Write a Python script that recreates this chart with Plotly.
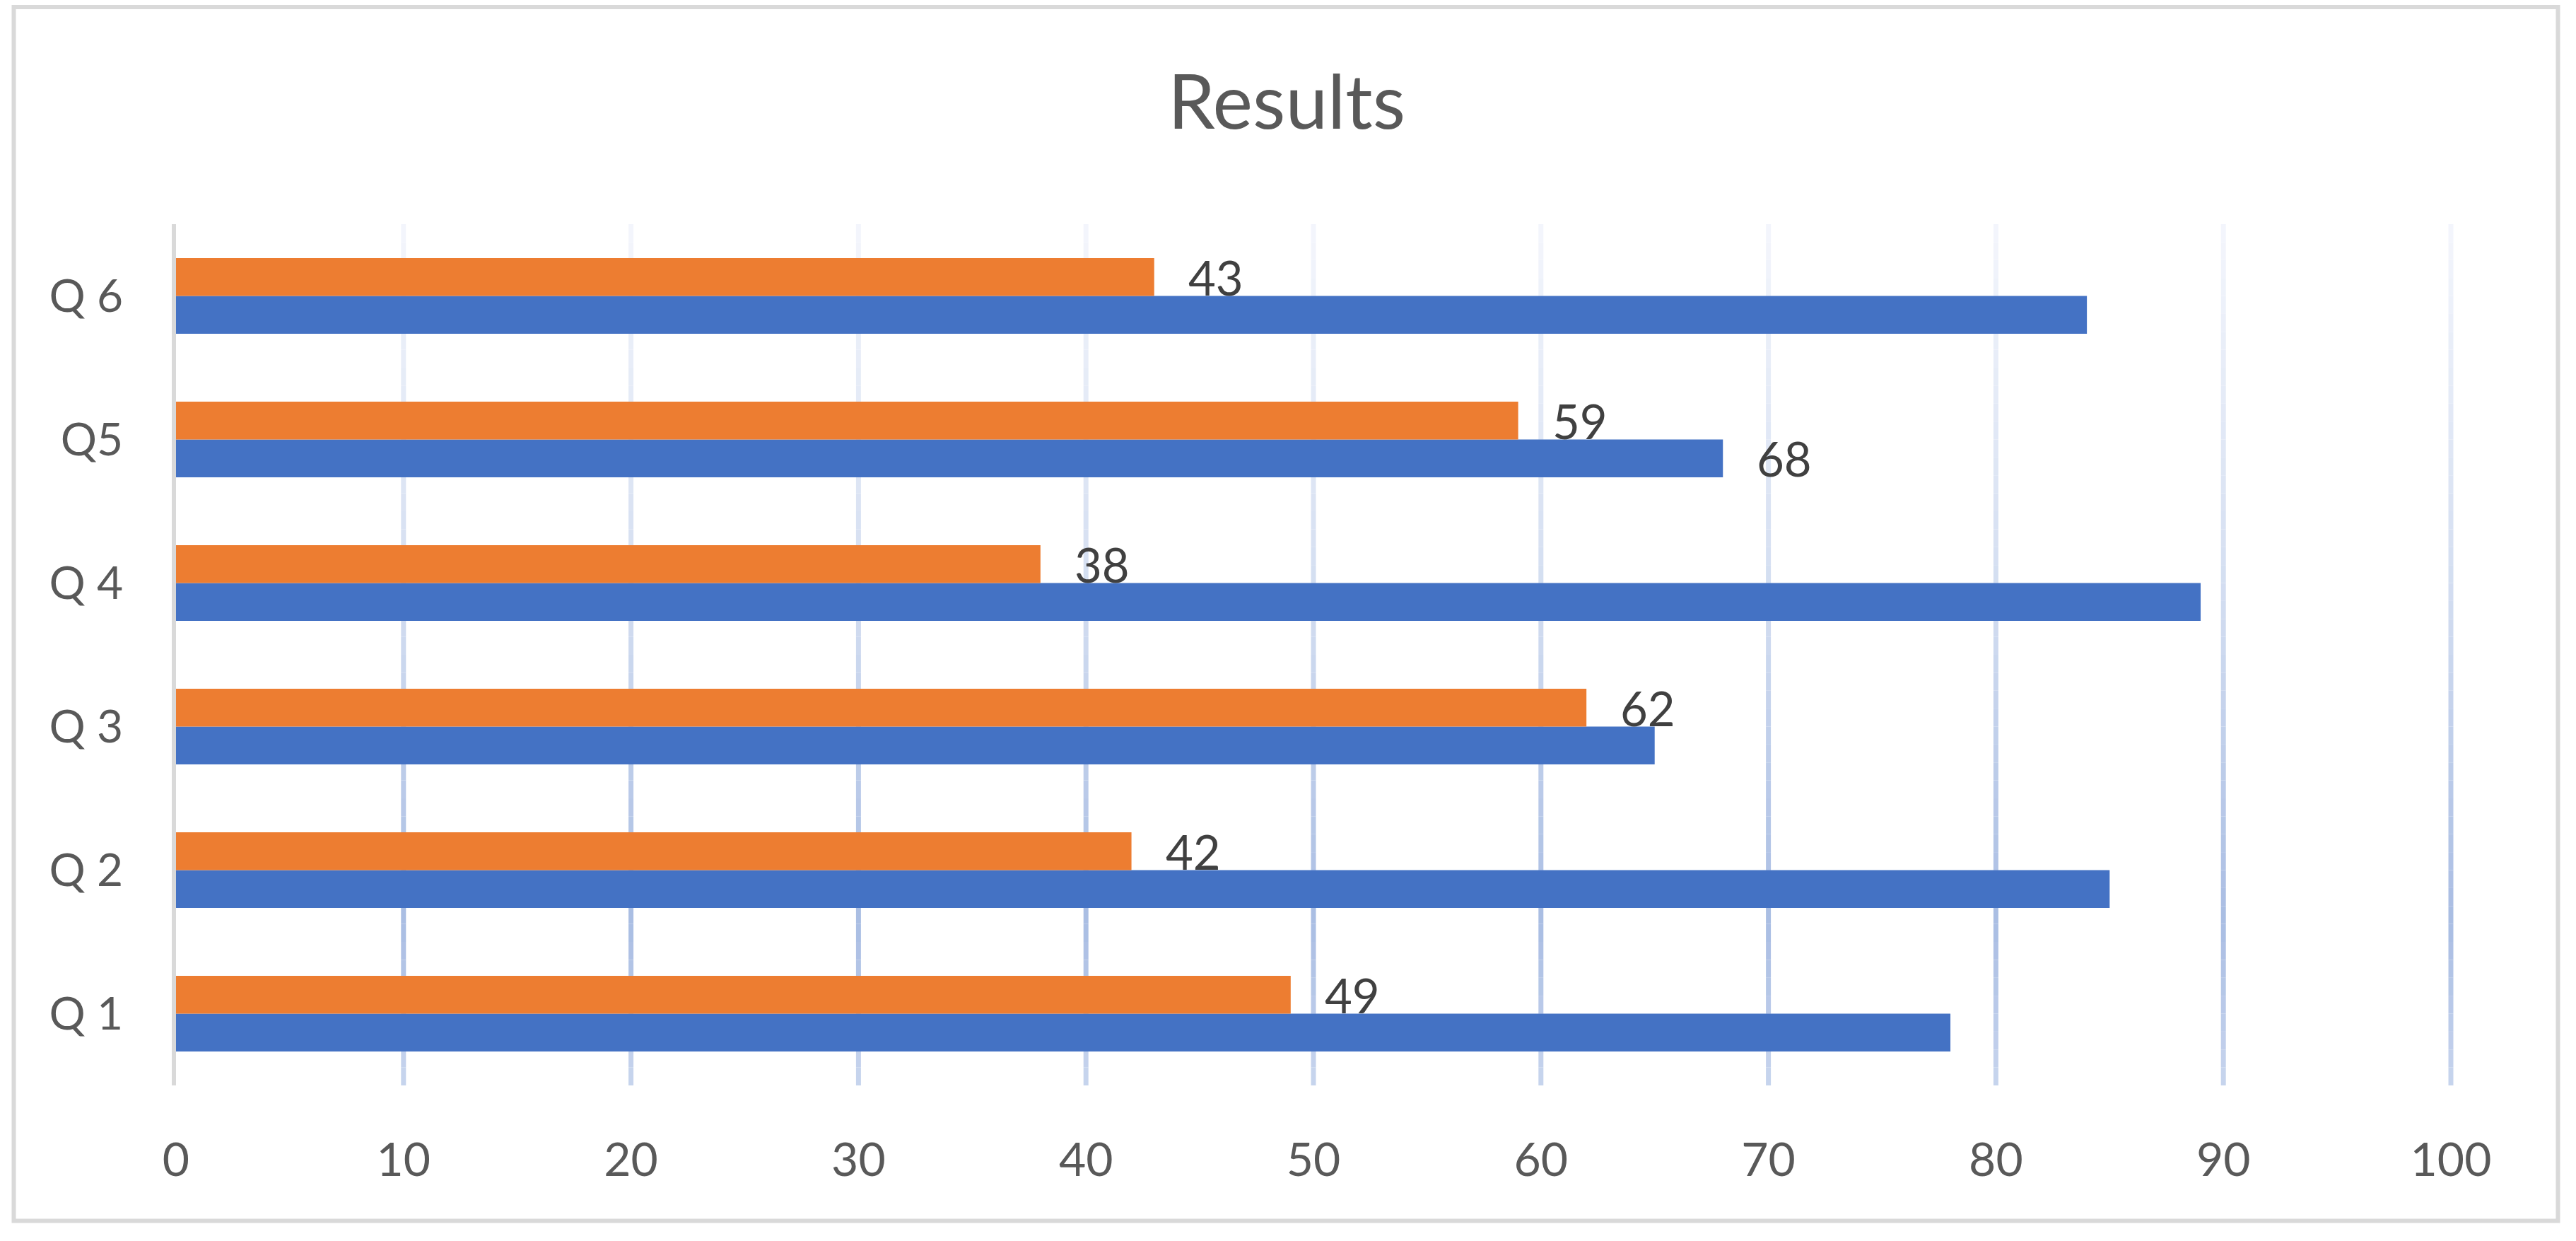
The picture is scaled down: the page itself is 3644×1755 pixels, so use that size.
import plotly.graph_objects as go

# ---------------- data ----------------
categories = ["Q 1", "Q 2", "Q 3", "Q 4", "Q5", "Q 6"]
series_blue = [78, 85, 65, 89, 68, 84]
series_orange = [49, 42, 62, 38, 59, 43]
blue_label_shown = [False, False, False, False, True, False]
orange_label_shown = [True, True, True, True, True, True]
x_ticks = [0, 10, 20, 30, 40, 50, 60, 70, 80, 90, 100]
title_text = "Results"

# ---------------- style ----------------
W, H = 3644, 1755
L_PX, R_PX = 249, 3467      # x=0 and x=100 pixel positions
T_PX, B_PX = 317, 1535      # plot area top / bottom
BLUE = "#4472C4"
ORANGE = "#ED7D31"
FONT = "Lato, Calibri, Carlito, sans-serif"
BARGAP = 0.473
X_RANGE = [x_ticks[0], x_ticks[-1]]

margin = dict(l=L_PX, r=W - R_PX, t=T_PX, b=H - B_PX, pad=0)
pw, ph = R_PX - L_PX, B_PX - T_PX

fig = go.Figure()
fig.add_trace(go.Bar(y=categories, x=series_blue, orientation="h",
                     marker=dict(color=BLUE, line=dict(width=0)), name="Series 1"))
fig.add_trace(go.Bar(y=categories, x=series_orange, orientation="h",
                     marker=dict(color=ORANGE, line=dict(width=0)), name="Series 2"))

# gradient gridlines (styling only)
def hex2rgb(h):
    h = h.lstrip("#")
    return tuple(int(h[i:i + 2], 16) for i in (0, 2, 4))

stops = [(0.0, hex2rgb("#F4F6FC")), (0.45, hex2rgb("#D1DCF0")),
         (0.81, hex2rgb("#A9BDE3")), (1.0, hex2rgb("#C8D5EE"))]

def color_at(f):
    for (f0, c0), (f1, c1) in zip(stops[:-1], stops[1:]):
        if f0 <= f <= f1:
            t = (f - f0) / (f1 - f0) if f1 > f0 else 0
            return "rgb(%d,%d,%d)" % tuple(round(a + (b - a) * t) for a, b in zip(c0, c1))
    return "rgb(%d,%d,%d)" % stops[-1][1]

def val2paper(v):
    return (v - X_RANGE[0]) / (X_RANGE[1] - X_RANGE[0])

shapes = []
N = 48
for v in x_ticks[1:]:
    xp = val2paper(v)
    for i in range(N):
        f_top = i / N
        f_bot = (i + 1) / N
        shapes.append(dict(type="line", xref="paper", yref="paper", x0=xp, x1=xp,
                           y0=1 - f_bot, y1=1 - f_top, layer="below",
                           line=dict(color=color_at((f_top + f_bot) / 2), width=7)))

# outer chart border
def px2paper_x(px):
    return (px - L_PX) / pw

def px2paper_y(py):
    return (B_PX - py) / ph

shapes.append(dict(type="rect", xref="paper", yref="paper",
                   x0=px2paper_x(19.5), x1=px2paper_x(3618.5),
                   y0=px2paper_y(1726.5), y1=px2paper_y(10),
                   line=dict(color="#D9D9D9", width=6), fillcolor="rgba(0,0,0,0)",
                   layer="below"))

# data labels
half = (1 - BARGAP) / 4
label_font = dict(family=FONT, size=67, color="#404040")
annotations = []
for i, (v, show) in enumerate(zip(series_orange, orange_label_shown)):
    if show:
        annotations.append(dict(x=v, y=i + half, xref="x", yref="y", text=str(v),
                                showarrow=False, xanchor="left", yanchor="middle",
                                xshift=46, font=label_font))
for i, (v, show) in enumerate(zip(series_blue, blue_label_shown)):
    if show:
        annotations.append(dict(x=v, y=i - half, xref="x", yref="y", text=str(v),
                                showarrow=False, xanchor="left", yanchor="middle",
                                xshift=46, font=label_font))

fig.update_layout(
    width=W, height=H, margin=margin,
    paper_bgcolor="white", plot_bgcolor="white",
    barmode="group", bargap=BARGAP, bargroupgap=0,
    showlegend=False,
    title=dict(text=title_text, x=1820 / W, xanchor="center", xref="container",
               y=1 - 145 / H, yanchor="middle", yref="container",
               font=dict(family=FONT, size=107, color="#595959")),
    xaxis=dict(range=X_RANGE, tickvals=x_ticks, ticktext=[str(t) for t in x_ticks],
               showgrid=False, zeroline=False, showline=False, ticks="",
               ticklabelstandoff=61,
               tickfont=dict(family=FONT, size=66, color="#595959")),
    yaxis=dict(type="category", categoryorder="array", categoryarray=categories,
               showgrid=False, zeroline=False, showline=True, linecolor="#D9D9D9",
               linewidth=6, ticks="", ticklabelstandoff=56,
               tickfont=dict(family=FONT, size=64, color="#595959")),
    shapes=shapes, annotations=annotations,
)

fig.write_html("out.html", config={"displayModeBar": False},
               post_script="document.body.style.margin='0';document.body.style.overflow='hidden';")
